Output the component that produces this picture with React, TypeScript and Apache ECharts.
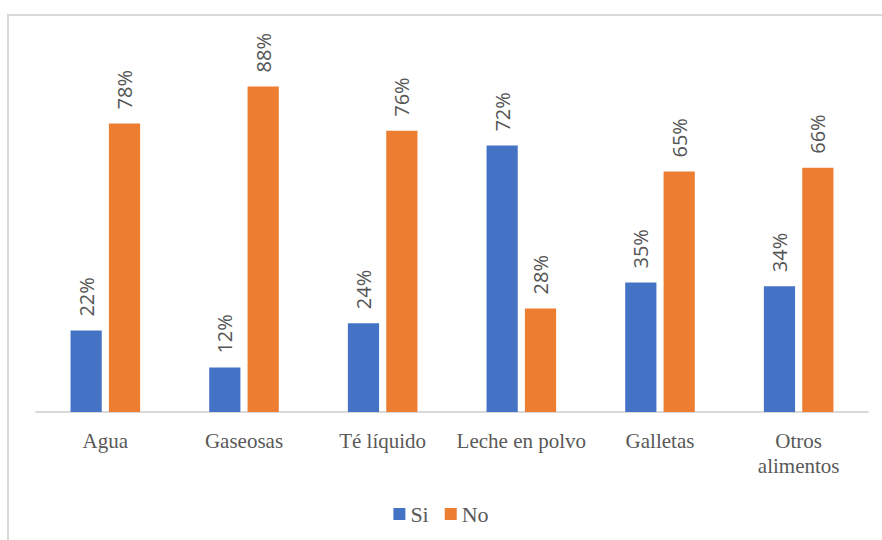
import React, { useEffect, useRef } from "react";
import * as echarts from "echarts";

const categories = ["Agua", "Gaseosas", "Té líquido", "Leche en polvo", "Galletas", "Otros alimentos"];
const siValues = [22, 12, 24, 72, 35, 34];
const noValues = [78, 88, 76, 28, 65, 66];
const seriesNames = ["Si", "No"];

export default function App() {
  const ref = useRef<HTMLDivElement>(null);
  useEffect(() => {
    if (!ref.current) return;
    const chart = echarts.init(ref.current, undefined, { renderer: "svg" });
    const label = {
      show: true,
      position: "top",
      rotate: 90,
      align: "left",
      verticalAlign: "middle",
      distance: 14,
      formatter: "{c}%",
      color: "#555555",
      fontFamily: "Open Sans",
      fontSize: 20,
    };
    const serifText = {
      fontFamily: "Liberation Serif",
      fontSize: 22,
      color: "#595959",
    };
    chart.setOption({
      animation: false,
      backgroundColor: "#ffffff",
      graphic: [
        {
          type: "rect",
          shape: { x: 8, y: 15, width: 900, height: 600 },
          style: { fill: "none", stroke: "#d9d9d9", lineWidth: 2 },
          silent: true,
        },
      ],
      legend: {
        bottom: 10,
        left: "center",
        itemWidth: 12,
        itemHeight: 12,
        itemGap: 16,
        icon: "rect",
        textStyle: { ...serifText, rich: { s: serifText } },
        formatter: "{s|{name}}",
        data: seriesNames,
      },
      grid: { left: 36, right: 14, top: 42, bottom: 128 },
      xAxis: {
        type: "category",
        data: categories,
        axisLine: { lineStyle: { color: "#d9d9d9", width: 2 } },
        axisTick: { show: false },
        axisLabel: {
          interval: 0,
          margin: 16,
          fontFamily: "Liberation Serif",
          fontSize: 21,
          lineHeight: 25,
          color: "#595959",
          formatter: (v: string) => (v === "Otros alimentos" ? "Otros\nalimentos" : v),
        },
      },
      yAxis: {
        type: "value",
        min: 0,
        max: 100,
        show: false,
        splitLine: { show: false },
      },
      series: [
        {
          name: seriesNames[0],
          type: "bar",
          data: siValues,
          barWidth: "22.5%",
          barGap: "23%",
          itemStyle: { color: "#4472C4" },
          label,
        },
        {
          name: seriesNames[1],
          type: "bar",
          data: noValues,
          barWidth: "22.5%",
          itemStyle: { color: "#ED7D31" },
          label,
        },
      ],
    });
    return () => chart.dispose();
  }, []);
  return (
    <div
      ref={ref}
      style={{ position: "fixed", left: 0, top: 0, width: 882, height: 540 }}
    />
  );
}
